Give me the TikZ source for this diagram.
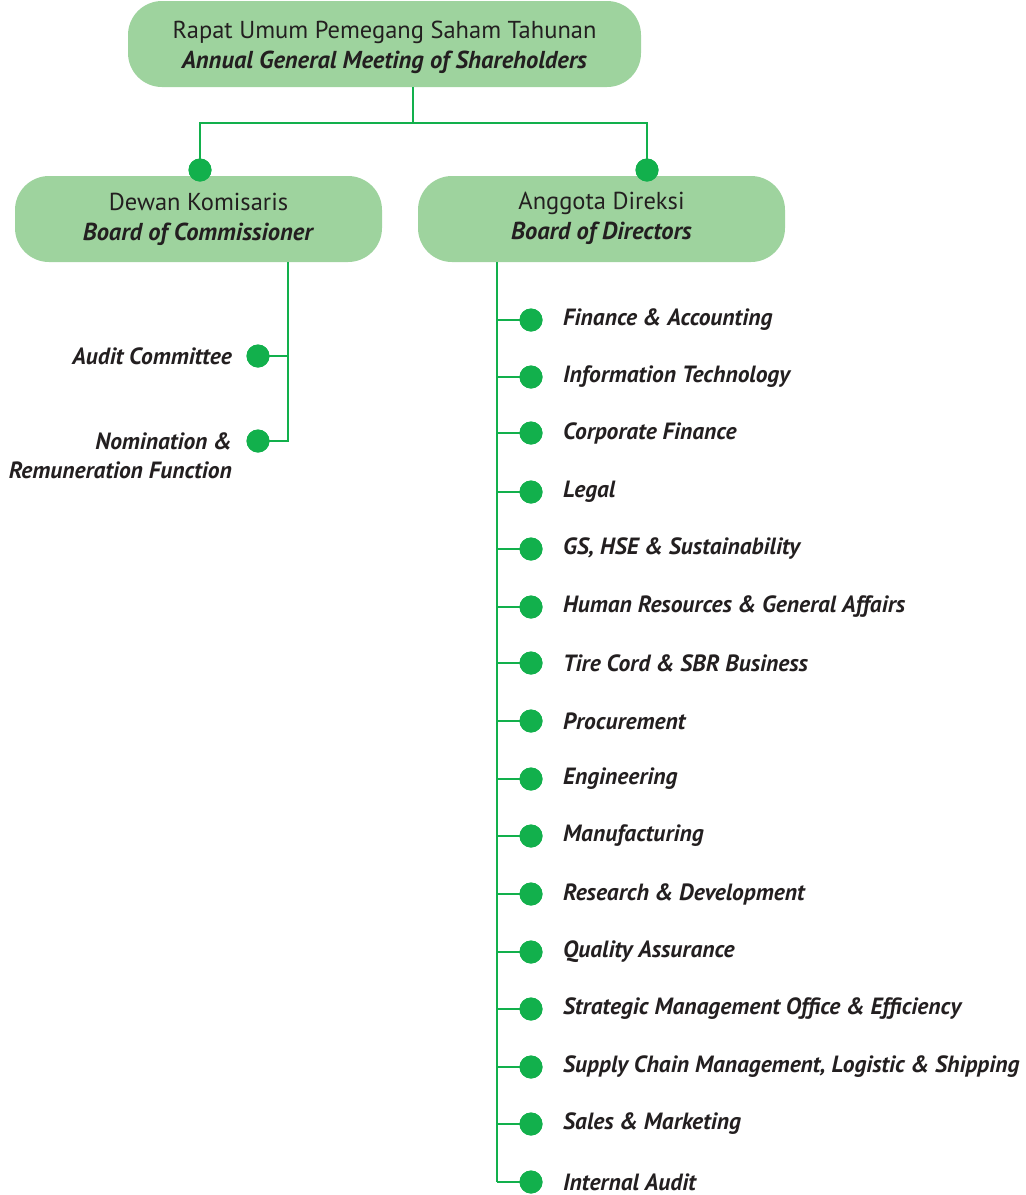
\documentclass[tikz,border=0pt]{standalone}
\usepackage{fontspec}
\setmainfont{PT Sans}
\definecolor{boxfill}{RGB}{158,211,158}
\definecolor{linegreen}{RGB}{18,176,76}
\definecolor{txt}{RGB}{35,31,32}
\begin{document}
\begin{tikzpicture}[x=1pt,y=-1pt,
  box/.style={draw=none,fill=boxfill,rounded corners=34pt,minimum height=86pt,inner sep=0pt},
  boxtext/.style={align=center,text=txt,inner sep=0pt,font=\fontsize{24.5}{30}\selectfont},
  conn/.style={draw=linegreen,line width=2.2pt},
  dot/.style={circle,fill=linegreen,minimum size=23pt,inner sep=0pt},
  lbl/.style={text=txt,font=\fontsize{23.5}{29}\selectfont\bfseries\itshape,inner sep=0pt},
]
\useasboundingbox (0,0) rectangle (1026,1195);
\node[box,minimum width=513pt] (agm) at (384.5,44) {};
\node[boxtext] (agmt) at (384.5,47) {Rapat Umum Pemegang Saham Tahunan\\\textbf{\textit{Annual General Meeting of Shareholders}}};
\node[box,minimum width=367pt] (boc) at (198.5,219) {};
\node[boxtext] (boct) at (198.5,219) {Dewan Komisaris\\\textbf{\textit{Board of Commissioner}}};
\node[box,minimum width=367pt] (bod) at (601.5,219) {};
\node[boxtext] (bodt) at (601.5,218) {Anggota Direksi\\\textbf{\textit{Board of Directors}}};
\node[dot] (dl) at (200,170) {};
\node[dot] (dr) at (647,170) {};
\coordinate (j) at (413,123);
\draw[conn] (agm.south -| j) -- (j);
\draw[conn] (dl.center) |- (j) -| (dr.center);
\node[dot] at (dl) {};
\node[dot] at (dr) {};
% left branch
\node[dot] (ac) at (258,356) {};
\node[dot] (nr) at (258,441) {};
\coordinate (lt) at (288,262);
\draw[conn] (lt) -- (lt |- nr) -- (nr.center);
\draw[conn] (ac.center) -- (ac -| lt);
\node[dot] at (ac) {};
\node[dot] at (nr) {};
\node[lbl,anchor=east] (acl) at (232,356) {Audit Committee};
\node[lbl,anchor=east,align=right] (nrl) at (232,456) {Nomination \&\\Remuneration Function};
% right branch
\coordinate (rt) at (497,262);
\foreach \i/\y/\t in {1/320/Finance \& Accounting,2/377/Information Technology,3/433/Corporate Finance,4/492/Legal,5/549/{GS, HSE \& Sustainability},6/607/Human Resources \& General Affairs,7/663/Tire Cord \& SBR Business,8/721/Procurement,9/779/Engineering,10/836/Manufacturing,11/894/Research \& Development,12/952/Quality Assurance,13/1009/Strategic Management Office \& Efficiency,14/1067/{Supply Chain Management, Logistic \& Shipping},15/1124/Sales \& Marketing,16/1182/Internal Audit}{
  \node[dot] (d\i) at (531,\y) {};
  \draw[conn] (rt |- d\i) -- (d\i.center);
  \node[dot] at (d\i) {};
  \node[lbl,anchor=west] (t\i) at (563,\y) {\t};
}
\draw[conn] (rt) -- (rt |- d16);
\end{tikzpicture}
\end{document}
